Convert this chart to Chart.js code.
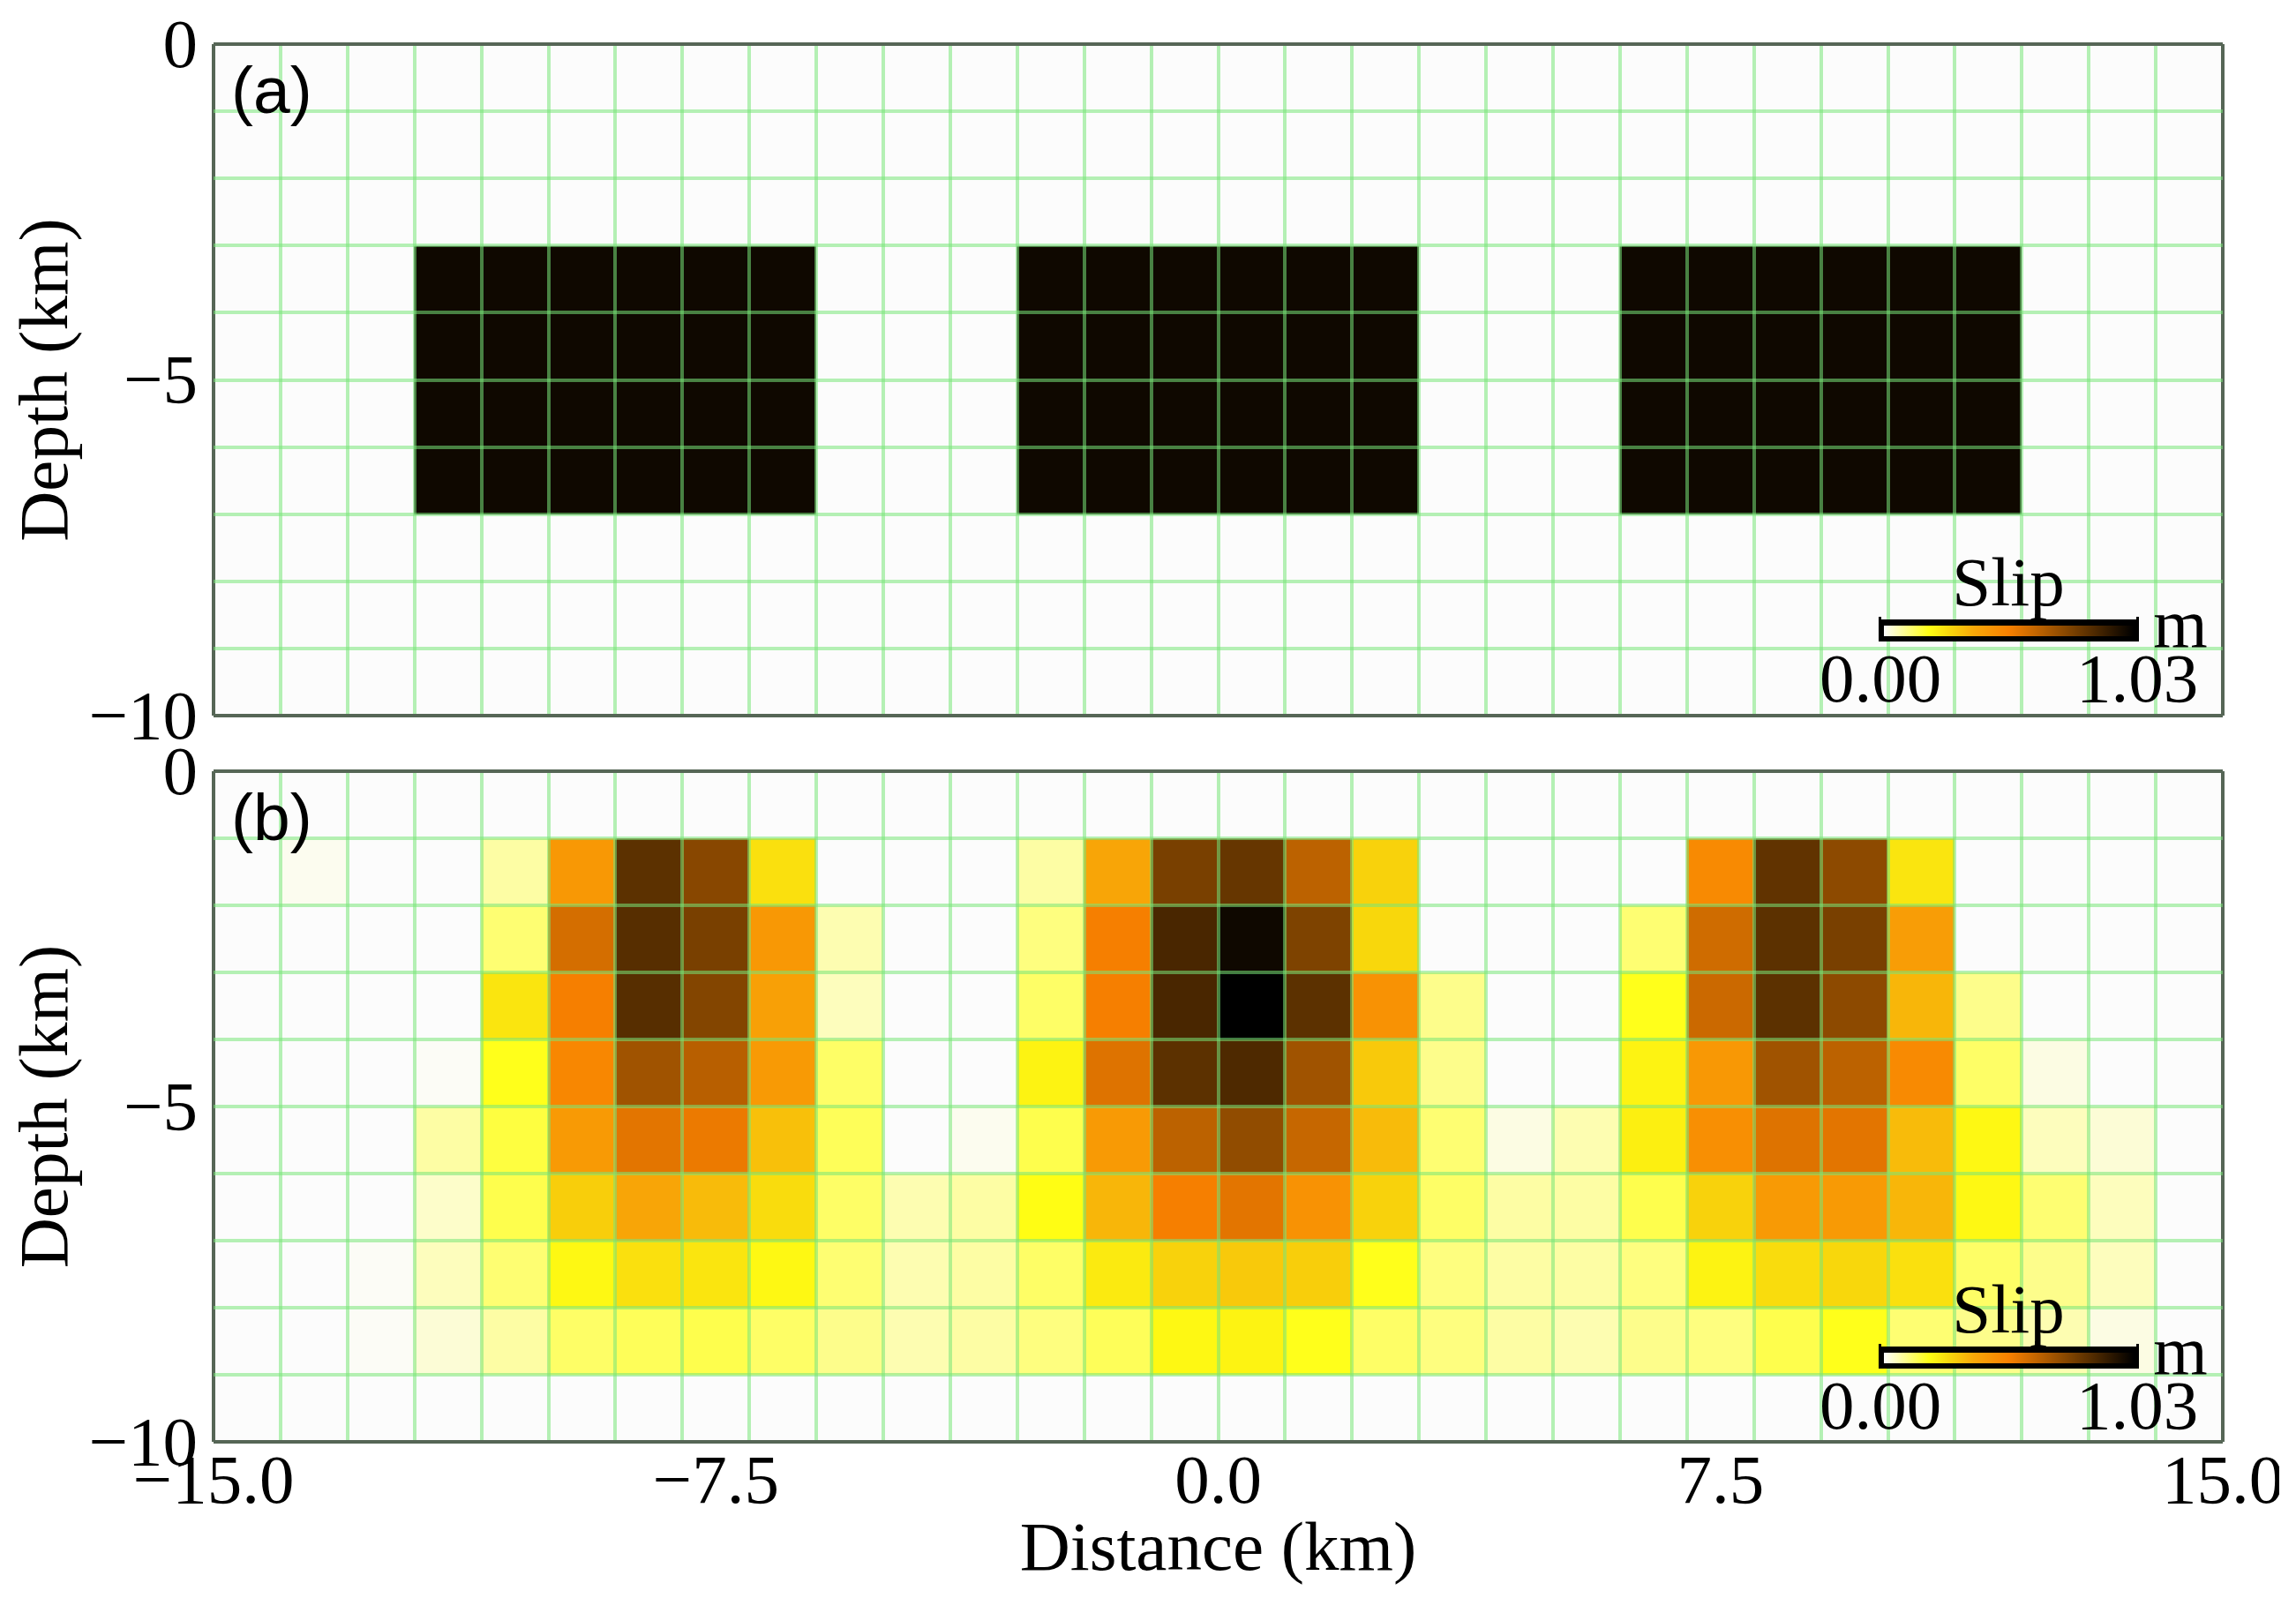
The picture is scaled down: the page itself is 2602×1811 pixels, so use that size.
<!DOCTYPE html>
<html>
<head>
<meta charset="utf-8">
<script src="https://cdn.jsdelivr.net/npm/chart.js"></script>
<style>
html, body { margin: 0; padding: 0; background: #fff; overflow: hidden; }
canvas { position: absolute; left: 0; }
#chart-a { top: 0; }
#chart-b { top: 842px; }
</style>
</head>
<body>
<canvas id="chart-a" width="2602" height="842"></canvas>
<canvas id="chart-b" width="2602" height="969"></canvas>
<script>
// column left edges in km, rows run from depth 0-1 km down to 9-10 km
const columnEdges = [-15,-14,-13,-12,-11,-10,-9,-8,-7,-6,-5,-4,-3,-2,-1,0,1,2,3,4,5,6,7,8,9,10,11,12,13,14];
const depthRows = [0,1,2,3,4,5,6,7,8,9];
const xTickLabels = [-15, -7.5, 0, 7.5, 15];
const yTickLabels = [0, -5, -10];
const slipMin = 0;
const slipMax = 1.03;

// slip in metres, panel (a)
const slipA = [
    [0,0,0,0,0,0,0,0,0,0,0,0,0,0,0,0,0,0,0,0,0,0,0,0,0,0,0,0,0,0],
    [0,0,0,0,0,0,0,0,0,0,0,0,0,0,0,0,0,0,0,0,0,0,0,0,0,0,0,0,0,0],
    [0,0,0,0,0,0,0,0,0,0,0,0,0,0,0,0,0,0,0,0,0,0,0,0,0,0,0,0,0,0],
    [0,0,0,1,1,1,1,1,1,0,0,0,1,1,1,1,1,1,0,0,0,1,1,1,1,1,1,0,0,0],
    [0,0,0,1,1,1,1,1,1,0,0,0,1,1,1,1,1,1,0,0,0,1,1,1,1,1,1,0,0,0],
    [0,0,0,1,1,1,1,1,1,0,0,0,1,1,1,1,1,1,0,0,0,1,1,1,1,1,1,0,0,0],
    [0,0,0,1,1,1,1,1,1,0,0,0,1,1,1,1,1,1,0,0,0,1,1,1,1,1,1,0,0,0],
    [0,0,0,0,0,0,0,0,0,0,0,0,0,0,0,0,0,0,0,0,0,0,0,0,0,0,0,0,0,0],
    [0,0,0,0,0,0,0,0,0,0,0,0,0,0,0,0,0,0,0,0,0,0,0,0,0,0,0,0,0,0],
    [0,0,0,0,0,0,0,0,0,0,0,0,0,0,0,0,0,0,0,0,0,0,0,0,0,0,0,0,0,0]
];

// slip in metres, panel (b)
const slipB = [
    [0,0,0,0,0,0,0,0,0,0,0,0,0,0,0,0,0,0,0,0,0,0,0,0,0,0,0,0,0,0],
    [0,.01,0,0,.07,.43,.84,.75,.25,0,0,0,.07,.38,.78,.82,.64,.28,0,0,0,0,.48,.83,.74,.24,0,0,0,0],
    [0,0,0,0,.11,.59,.85,.78,.43,.06,0,0,.10,.52,.88,1.00,.77,.27,0,0,0,.11,.60,.84,.78,.41,0,0,0,0],
    [0,0,0,0,.24,.52,.85,.76,.40,.05,0,0,.12,.52,.88,1.03,.84,.45,.09,0,0,.18,.61,.84,.74,.34,.09,0,0,0],
    [0,0,0,.005,.18,.49,.70,.65,.42,.12,0,0,.21,.57,.84,.87,.70,.30,.09,0,0,.21,.43,.70,.64,.48,.12,.02,0,0],
    [0,0,0,.07,.15,.42,.56,.54,.32,.13,0,.01,.14,.42,.64,.73,.62,.33,.11,.02,.06,.22,.46,.57,.56,.33,.20,.05,.03,0],
    [0,0,0,.04,.14,.29,.38,.33,.26,.12,.06,.07,.19,.34,.52,.56,.45,.28,.12,.07,.07,.14,.28,.42,.42,.34,.20,.11,.05,0],
    [0,0,.005,.05,.11,.20,.25,.24,.20,.11,.06,.07,.12,.23,.28,.30,.29,.18,.10,.07,.07,.10,.21,.26,.27,.25,.12,.09,.05,0],
    [0,0,.005,.03,.07,.12,.13,.14,.12,.09,.06,.07,.10,.13,.20,.21,.18,.12,.10,.07,.06,.09,.10,.14,.18,.11,.09,.06,.02,0],
    [0,0,0,0,0,0,0,0,0,0,0,0,0,0,0,0,0,0,0,0,0,0,0,0,0,0,0,0,0,0]
];

// colour ramp, position along 0..1 and rgb
const rampStops = [0, 0.18, 0.26, 0.36, 0.5, 0.75, 1];
const rampColors = [[252,252,252],[255,255,20],[248,216,12],[248,168,8],[248,128,0],[125,66,0],[0,0,0]];

const serif = 'Liberation Serif';
const gridGreen = 'rgba(120,230,120,0.55)';
const edgeColor = '#566656';

function slipColor(slip) {
    const t = Math.min(slip / slipMax, 1);
    let i = 0;
    while (i < rampStops.length - 2 && t > rampStops[i + 1]) i++;
    const f = (t - rampStops[i]) / (rampStops[i + 1] - rampStops[i]);
    const c = rampColors[i].map((v, k) => Math.round(v + (rampColors[i + 1][k] - v) * f));
    return `rgb(${c[0]},${c[1]},${c[2]})`;
}

// real minus sign in front of negative tick labels
function minusLabel(value, digits) {
    const text = Math.abs(value).toFixed(digits);
    return value < 0 ? '\u2212' + text : text;
}

// panel letter and the small slip colour bar, placed from the chart area corner
function overlayPlugin(letter) {
    return {
        id: 'overlay',
        afterDraw(chart) {
            const ctx = chart.ctx;
            const left = chart.chartArea.left;
            const top = chart.chartArea.top;
            ctx.save();
            ctx.fillStyle = '#000';
            ctx.textBaseline = 'alphabetic';
            ctx.textAlign = 'left';
            ctx.font = `75px "Liberation Sans"`;
            ctx.fillText(letter, left + 20, top + 78);

            ctx.font = `79px "${serif}"`;
            ctx.textAlign = 'center';
            ctx.fillText('Slip', 2276, top + 636);
            ctx.fillText('m', 2471, top + 683);
            ctx.fillText(slipMin.toFixed(2), 2131, top + 745);
            ctx.fillText(slipMax.toFixed(2), 2422, top + 745);

            const barX = 2129, barY = top + 652, barW = 295, barH = 25;
            ctx.fillStyle = '#000';
            ctx.fillRect(barX, barY, barW, barH);
            ctx.fillRect(barX, barY - 3, 3, 3);
            ctx.fillRect(barX + barW - 3, barY - 3, 3, 3);
            ctx.fillRect(2306, barY - 6, 4, 6);
            const grad = ctx.createLinearGradient(barX + 6, 0, barX + barW - 6, 0);
            rampStops.forEach((s, i) => grad.addColorStop(s, `rgb(${rampColors[i].join(',')})`));
            ctx.fillStyle = grad;
            ctx.fillRect(barX + 6, barY + 7, barW - 12, barH - 13);

            // the picture is cropped through the last x label
            ctx.clearRect(2583, chart.chartArea.bottom + 5, 19, 120);
            ctx.restore();
        }
    };
}

function drawPanel(canvasId, rows, letter, showX, topPad, xHeight) {
    const datasets = depthRows.map((d, r) => ({
        data: columnEdges.map(x => ({ x: x + 0.5, y: [-d - 1, -d] })),
        backgroundColor: rows[r].map(slipColor),
        borderWidth: 0,
        barThickness: 'flex',
        barPercentage: 1,
        categoryPercentage: 1
    }));

    return new Chart(document.getElementById(canvasId), {
        type: 'bar',
        data: { datasets },
        plugins: [overlayPlugin(letter)],
        options: {
            responsive: false,
            animation: false,
            devicePixelRatio: 1,
            layout: { padding: { top: topPad, right: 83, left: 0, bottom: 0 } },
            plugins: { legend: { display: false }, tooltip: { enabled: false } },
            scales: {
                x: {
                    type: 'linear',
                    stacked: true,   // all rows share one column slot, y stays unstacked
                    offset: false,
                    min: -15,
                    max: 15,
                    afterBuildTicks(scale) {
                        const values = columnEdges.concat([15, -7.5, 7.5]).sort((a, b) => a - b);
                        scale.ticks = values.map(value => ({ value }));
                    },
                    afterFit(scale) {
                        scale.height = xHeight;
                        scale.paddingLeft = 0;
                        scale.paddingRight = 0;
                    },
                    grid: {
                        z: 1,
                        offset: false,
                        drawTicks: false,
                        tickLength: 0,
                        color: c => (c.tick && Math.abs(c.tick.value) === 15) ? edgeColor : gridGreen,
                        lineWidth: c => (c.tick && Math.abs(c.tick.value) === 7.5) ? 0 : 4
                    },
                    border: { display: false },
                    ticks: {
                        display: showX,
                        autoSkip: false,
                        maxRotation: 0,
                        padding: 1,
                        color: '#000',
                        font: { family: serif, size: 79 },
                        callback: value => xTickLabels.includes(value) ? minusLabel(value, 1) : ''
                    },
                    title: {
                        display: showX,
                        text: 'Distance (km)',
                        color: '#000',
                        font: { family: serif, size: 79 },
                        padding: { top: 0, bottom: 5 }
                    }
                },
                y: {
                    type: 'linear',
                    min: -10,
                    max: 0,
                    afterFit(scale) {
                        scale.width = 242;
                        scale.paddingTop = 0;
                        scale.paddingBottom = 0;
                    },
                    grid: {
                        z: 1,
                        drawTicks: false,
                        tickLength: 0,
                        color: c => (c.tick && (c.tick.value === 0 || c.tick.value === -10)) ? edgeColor : gridGreen,
                        lineWidth: 4
                    },
                    border: { display: false },
                    ticks: {
                        stepSize: 1,
                        autoSkip: false,
                        padding: 18,
                        color: '#000',
                        font: { family: serif, size: 79, lineHeight: 0.127 },
                        // empty first line pushes the digits a few pixels below the tick
                        callback: value => yTickLabels.includes(value) ? ['', minusLabel(value, 0)] : ''
                    },
                    title: {
                        display: true,
                        text: 'Depth (km)',
                        color: '#000',
                        font: { family: serif, size: 79 },
                        padding: { top: 8, bottom: 0 }
                    }
                }
            }
        }
    });
}

drawPanel('chart-a', slipA, '(a)', false, 50, 31);
drawPanel('chart-b', slipB, '(b)', true, 32, 177);
</script>
</body>
</html>
